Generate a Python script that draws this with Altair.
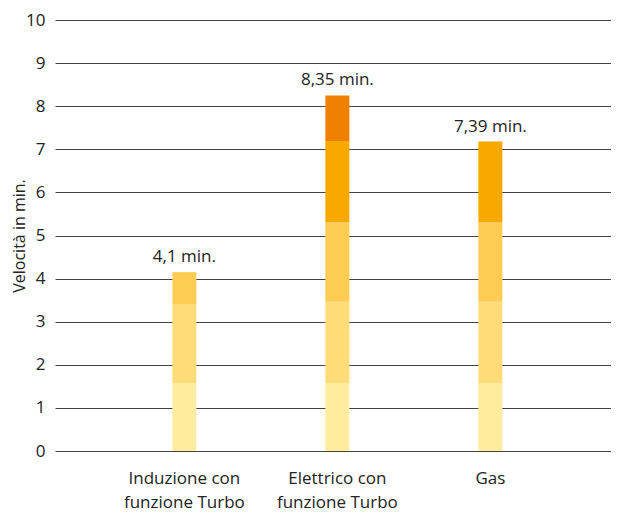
import altair as alt
import pandas as pd

categories = ["Induzione con|funzione Turbo", "Elettrico con|funzione Turbo", "Gas"]
segments = ["s1", "s2", "s3", "s4", "s5"]
seg1 = [1.57, 1.57, 1.57]
seg2 = [1.84, 1.89, 1.89]
seg3 = [0.74, 1.85, 1.85]
seg4 = [0.00, 1.88, 1.87]
seg5 = [0.00, 1.06, 0.00]
value_labels = ["4,1 min.", "8,35 min.", "7,39 min."]
colors = ["#FFEC9F", "#FFDC78", "#FECC53", "#F7A900", "#EF8000"]
y_ticks = list(range(0, 11))

all_segs = [seg1, seg2, seg3, seg4, seg5]
rows = []
for i, c in enumerate(categories):
    for j, s in enumerate(segments):
        rows.append({"cat": c, "seg": s, "order": j, "v": all_segs[j][i]})
df = pd.DataFrame(rows)
totals = [sum(all_segs[j][i] for j in range(len(segments))) for i in range(len(categories))]
tot = pd.DataFrame({"cat": categories, "total": totals, "label": value_labels})

FONT = "Open Sans"
FS = 17

x = alt.X(
    "cat:N",
    sort=categories,
    scale=alt.Scale(paddingInner=0, paddingOuter=0.317, align=0.545),
    axis=alt.Axis(
        title=None,
        labelExpr="split(datum.label, '|')",
        labelAngle=0,
        domain=False,
        ticks=False,
        labelPadding=19,
        labelFontSize=FS,
        labelLineHeight=24,
        labelColor="#222222",
        labelFont=FONT,
    ),
)

bars = alt.Chart(df).mark_bar(size=24).encode(
    x=x,
    y=alt.Y(
        "v:Q",
        stack="zero",
        scale=alt.Scale(domain=[0, 10], nice=False),
        axis=alt.Axis(
            values=y_ticks,
            grid=True,
            gridColor="#444444",
            gridWidth=1,
            ticks=False,
            domain=False,
            labelPadding=10,
            labelFontSize=FS,
            labelColor="#222222",
            labelFont=FONT,
            title="Velocità in min.",
            titleFont=FONT,
            titleFontSize=16,
            titleFontWeight="normal",
            titleColor="#222222",
            titlePadding=-2,
        ),
    ),
    color=alt.Color("seg:N", scale=alt.Scale(domain=segments, range=colors), legend=None),
    order=alt.Order("order:Q"),
)

texts = alt.Chart(tot).mark_text(
    baseline="bottom", dy=-6, fontSize=FS, font=FONT, color="#222222"
).encode(
    x=alt.X("cat:N", sort=categories),
    y=alt.Y("total:Q"),
    text="label:N",
)

chart = alt.layer(bars, texts).properties(
    width=556,
    height=431,
    padding={"left": 47, "top": 12, "right": 0, "bottom": 62},
    autosize=alt.AutoSizeParams(type="none"),
).configure_view(stroke=None)

chart.save("out.html", embed_options={"renderer": "svg", "actions": False})
